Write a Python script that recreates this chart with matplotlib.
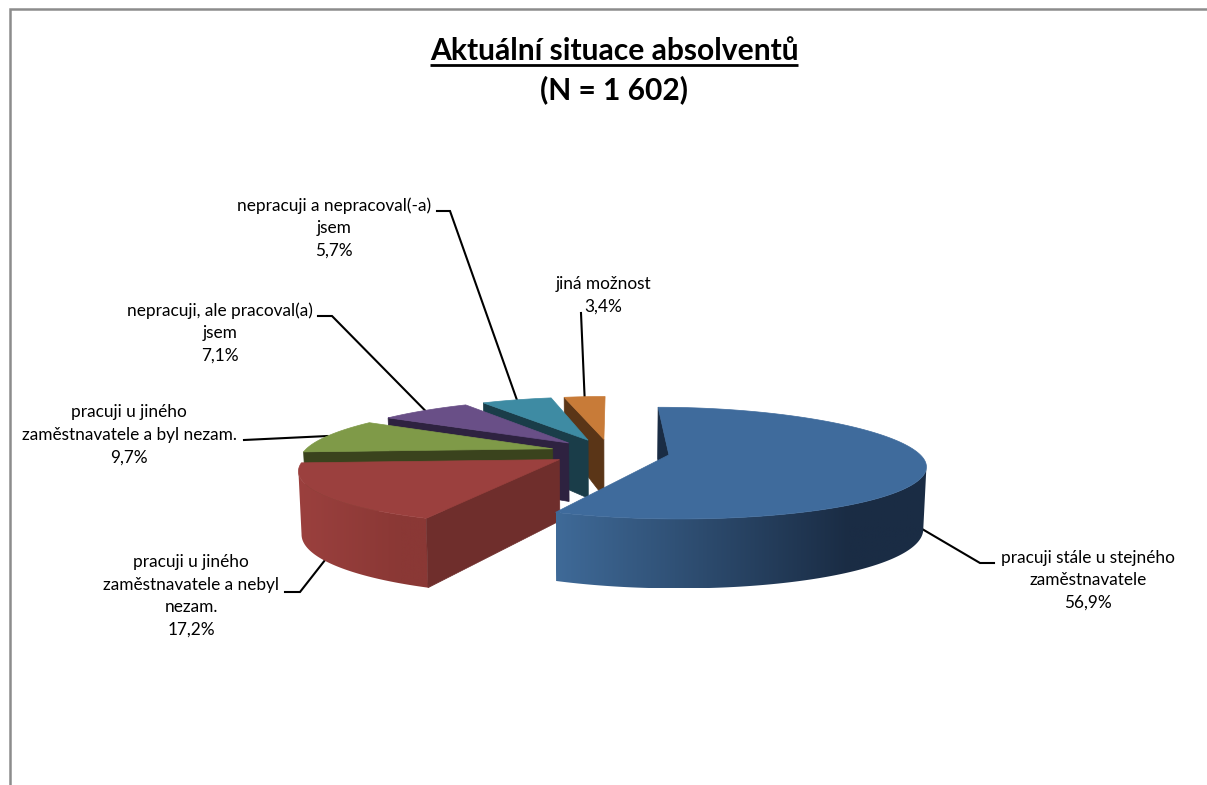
import numpy as np
import matplotlib
matplotlib.use("Agg")
import matplotlib.pyplot as plt
from matplotlib.colors import LinearSegmentedColormap
from matplotlib.patches import Polygon

# ---- data ----
TITLE_1 = "Aktuální situace absolventů"
TITLE_2 = "(N = 1 602)"
categories = [
    "pracuji stále u stejného\nzaměstnavatele",
    "pracuji u jiného\nzaměstnavatele a nebyl\nnezam.",
    "pracuji u jiného\nzaměstnavatele a byl nezam.",
    "nepracuji, ale pracoval(a)\njsem",
    "nepracuji a nepracoval(-a)\njsem",
    "jiná možnost",
]
values = [56.9, 17.2, 9.7, 7.1, 5.7, 3.4]

# ---- colours ----
top_colors = ["#3f6b9c", "#9b403e", "#7f9a48", "#694f87", "#3e8ba3", "#c87b38"]
face_colors = ["#1a2c44", "#6f2e2c", "#3a431d", "#2e2240", "#1a3d49", "#5a3517"]
wall_left = ["#3f6a98", "#9b403e", "#3a431d", "#2e2240", "#1a3d49", "#5a3517"]
wall_right = ["#1a2c44", "#8a3835", "#3a431d", "#2e2240", "#1a3d49", "#5a3517"]

# ---- layout ----
plt.rcParams["font.family"] = ["Lato", "DejaVu Sans"]
CX, CY = 610.0, 452.0
RX, RY = 249.0, 55.0
KX, KY = 0.185, 0.15
EXPLODE = 0.24
DEPTH = 60.0
BOTTOM_SHRINK = 0.99
label_centers = [(1088, 580), (191, 596), (129, 435), (220, 333), (334, 228), (603, 295)]
leader_tails = [
    [(980, 563), (994, 563)],
    [(300, 592), (285, 592)],
    [(244, 440)],
    [(332, 316), (318, 316)],
    [(450, 211), (437, 211)],
    [(581, 313)],
]


def project(u, v, bottom=False):
    x = CX + RX * u * (1 - KX * v)
    y = CY - RY * v * (1 - KY * v)
    if bottom:
        x = CX + (x - CX) * BOTTOM_SHRINK
        y = y + DEPTH * (1 - KY * v)
    return x, y


fig = plt.figure(figsize=(12.07, 7.85), dpi=100)
ax = fig.add_axes([0, 0, 1, 1])

# chart frame (open on the right and bottom, like the cropped original)
ax.plot([9.5, 9.5, 1207], [785, 9, 9], color="#8c8c8c", lw=1.8, solid_joinstyle="miter", zorder=1)

edges = np.concatenate([[0], np.cumsum(values)]) / sum(values) * 360.0
slices = list(range(len(values)))

geo = {}
for i in slices:
    a0, a1 = edges[i], edges[i + 1]
    mid = np.radians((a0 + a1) / 2)
    u0, v0 = EXPLODE * np.sin(mid), EXPLODE * np.cos(mid)
    geo[i] = (a0, a1, u0, v0, mid)

# painter's order: back slices first, the big blue one last
zo = 2
for i in reversed(slices):
    a0, a1, u0, v0, mid = geo[i]
    angs = np.radians(np.linspace(a0, a1, max(int(a1 - a0) * 2, 4)))
    us = u0 + np.sin(angs)
    vs = v0 + np.cos(angs)
    pts_top = [project(u, v) for u, v in zip(us, vs)]

    # outer wall with a horizontal shading gradient, only for slices facing the viewer;
    # it runs between the silhouette extremes so that the outline does not fold over itself
    if a0 < 260:
        xs_top = np.array([p[0] for p in pts_top])
        k_hi, k_lo = int(np.argmax(xs_top)), int(np.argmin(xs_top))
        keep = range(k_hi, k_lo + 1)
        w_top = [project(us[k], vs[k]) for k in keep]
        w_bot = [project(us[k], vs[k], True) for k in keep]
        wall = Polygon(w_top + w_bot[::-1], closed=True, fc="none", ec="none",
                       transform=ax.transData, zorder=zo)
        ax.add_patch(wall)
        all_x = [p[0] for p in w_top + w_bot]
        all_y = [p[1] for p in w_top + w_bot]
        x_lo, x_hi = min(all_x), max(all_x)
        cmap = LinearSegmentedColormap.from_list(
            "w", [(0, wall_left[i]), (0.79, wall_right[i]), (1, wall_right[i])])
        grad = np.linspace(0, 1, 256)[None, :]
        im = ax.imshow(grad, cmap=cmap, aspect="auto",
                       extent=(x_lo, x_hi, max(all_y), min(all_y)), zorder=zo)
        im.set_clip_path(wall)
    zo += 1

    # radial face on the start side of the slice
    ua, va = u0 + np.sin(angs[0]), v0 + np.cos(angs[0])
    face = [project(u0, v0), project(ua, va), project(ua, va, True), project(u0, v0, True)]
    ax.add_patch(Polygon(face, closed=True, fc=face_colors[i], ec=face_colors[i], lw=0.5, zorder=zo))
    zo += 1

    # top surface
    top = [project(u0, v0)] + pts_top
    ax.add_patch(Polygon(top, closed=True, fc=top_colors[i], ec=top_colors[i], lw=0.5, zorder=zo))
    zo += 1

ax.set_xlim(0, 1207)
ax.set_ylim(785, 0)
ax.axis("off")

# leaders and labels
for i in slices:
    a0, a1, u0, v0, mid = geo[i]
    u, v = u0 + np.sin(mid), v0 + np.cos(mid)
    front = 100 < np.degrees(mid) < 260
    start = project(u, v, bottom=front)
    path = [start] + leader_tails[i]
    ax.plot([p[0] for p in path], [p[1] for p in path], color="black", lw=1.5,
            solid_joinstyle="miter", zorder=1.5)
    txt = categories[i] + "\n" + f"{values[i]:.1f}".replace(".", ",") + "%"
    ax.text(*label_centers[i], txt, ha="center", va="center", fontsize=12.4,
            color="black", linespacing=1.5, zorder=200)

# title with drawn underline
t1 = ax.text(614, 51, TITLE_1, ha="center", va="center", fontsize=21.6, fontweight="bold",
             color="black", zorder=200)
ax.text(614, 90, TITLE_2, ha="center", va="center", fontsize=21.6, fontweight="bold",
        color="black", zorder=200)
fig.canvas.draw()
bb = t1.get_window_extent()
ax.plot([bb.x0, bb.x1], [64.5, 64.5], color="black", lw=2.0, zorder=200, solid_capstyle="butt")

fig.savefig("out.png", dpi=100)
